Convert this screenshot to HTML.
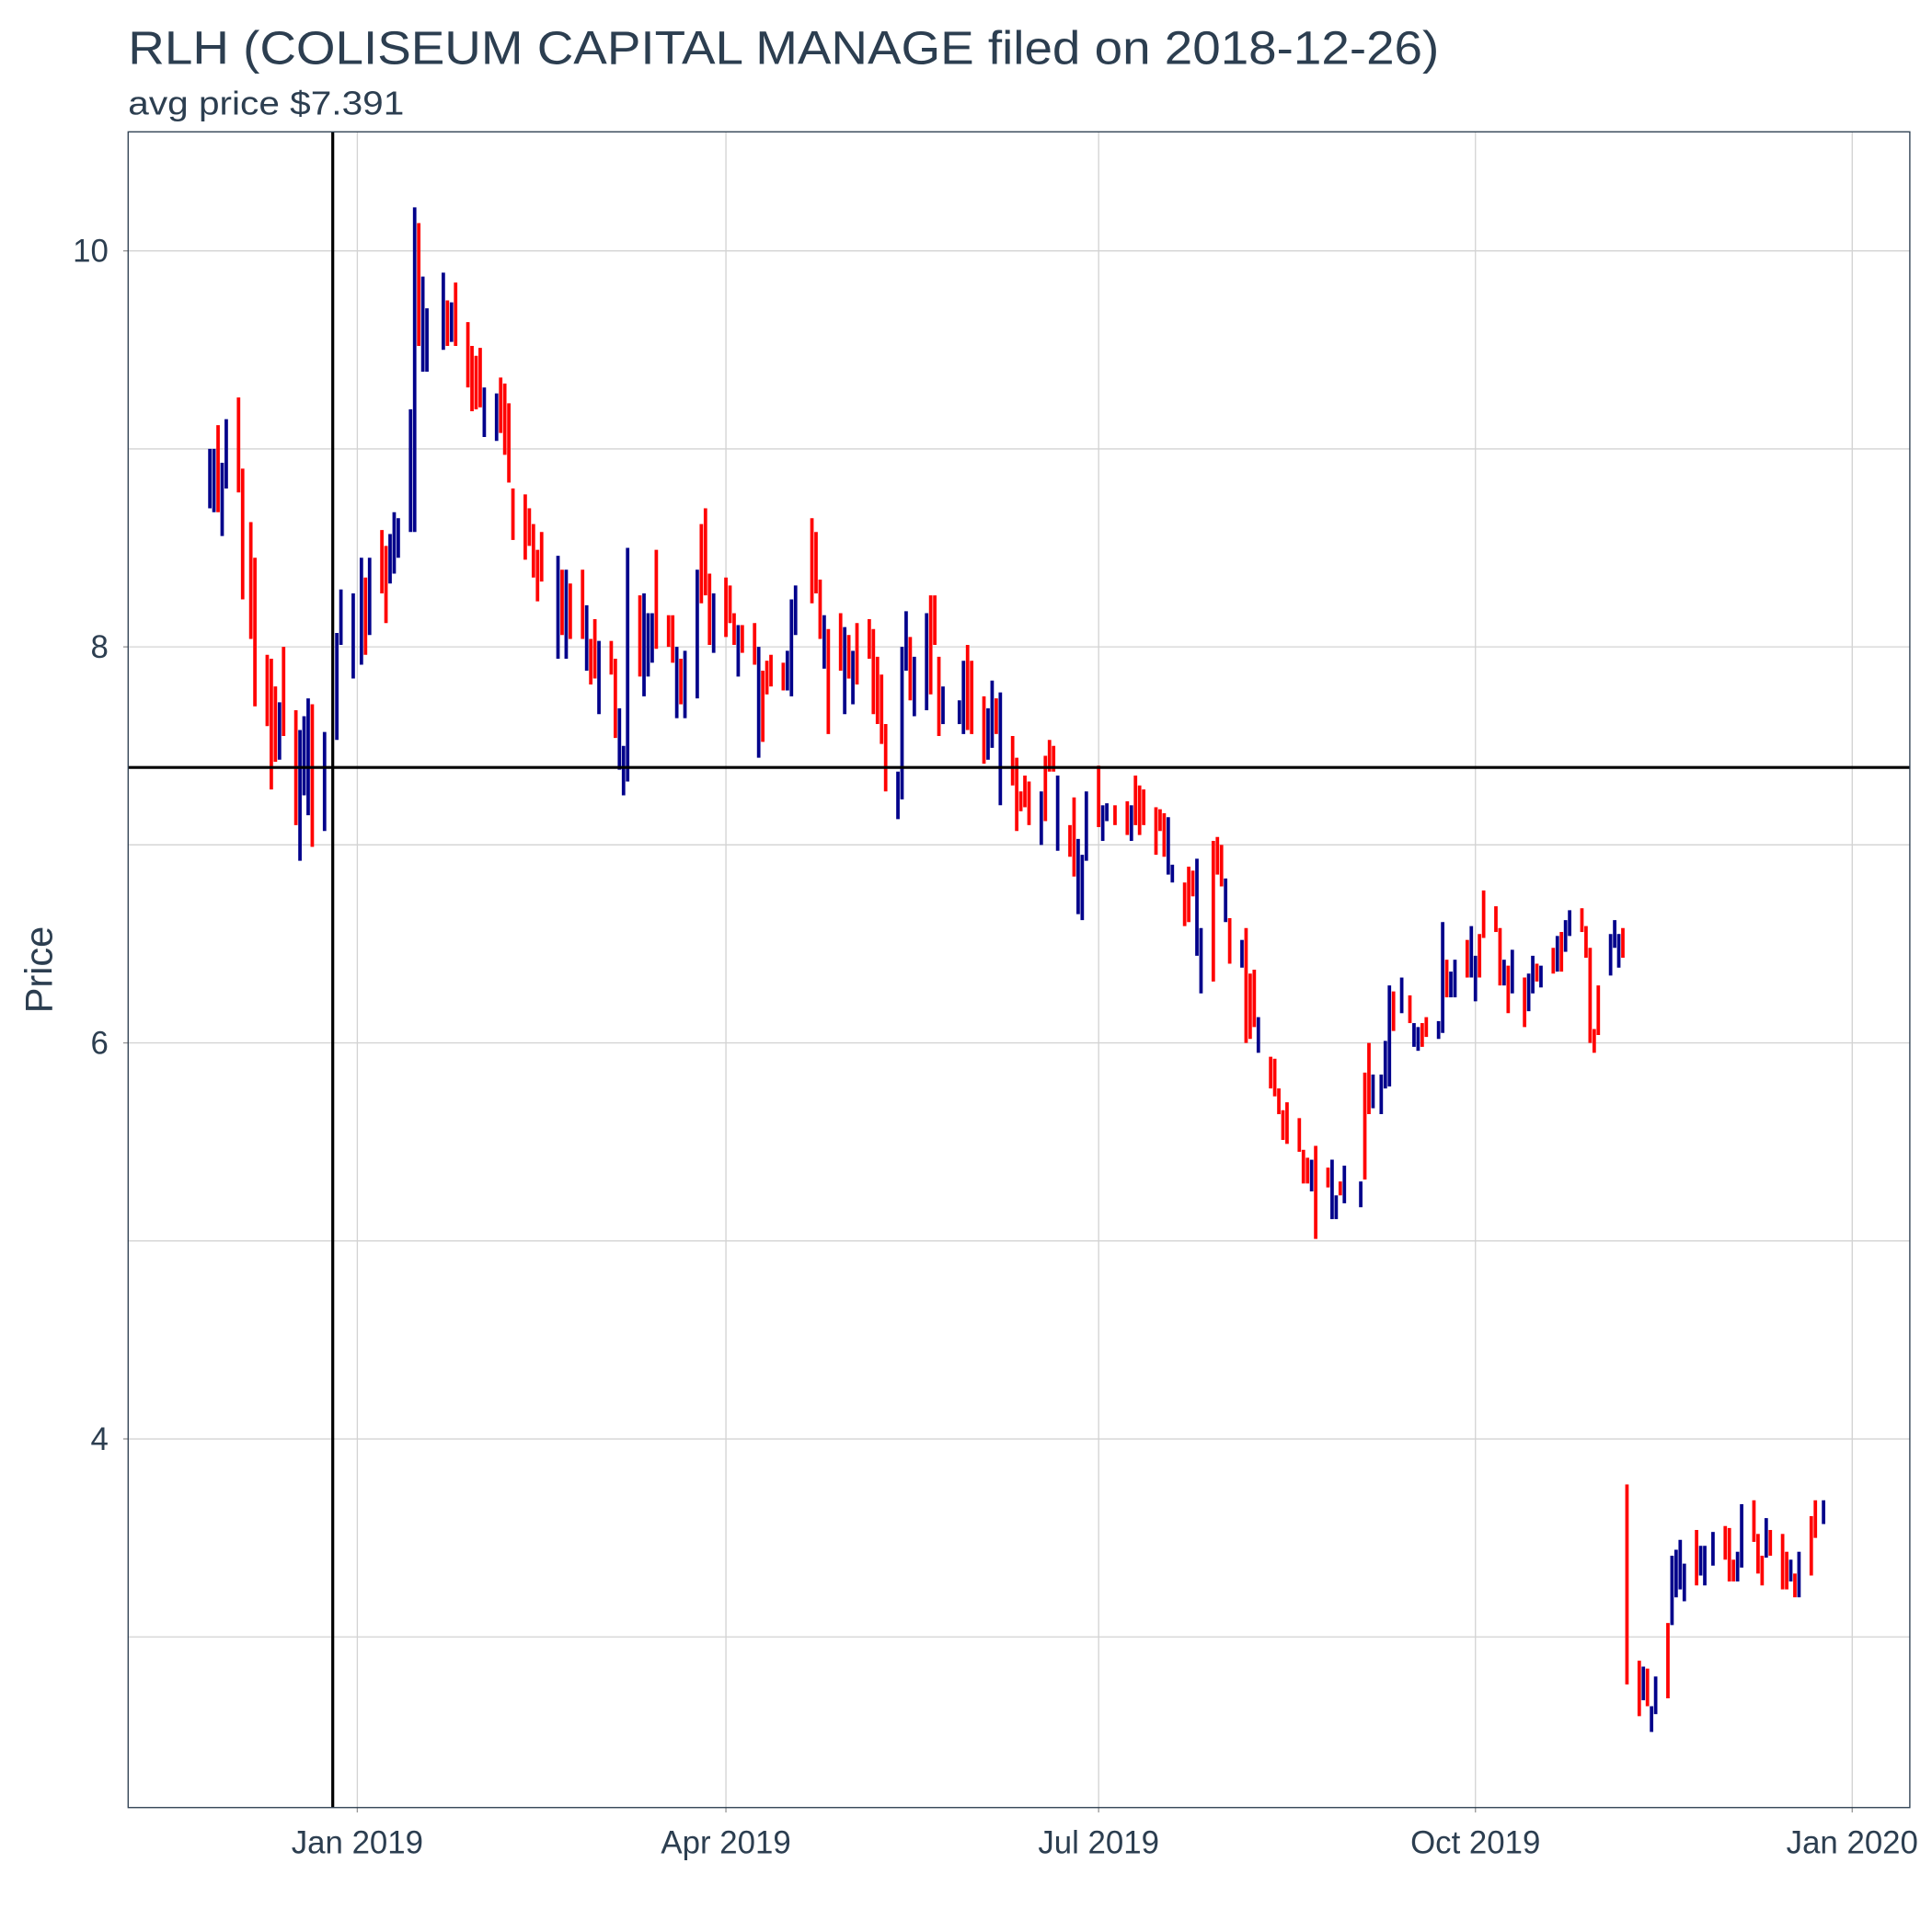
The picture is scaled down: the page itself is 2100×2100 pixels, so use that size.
<!DOCTYPE html>
<html><head><meta charset="utf-8"><style>
html,body{margin:0;padding:0;background:#fff;}
svg{display:block;font-family:"Liberation Sans",sans-serif;}
</style></head><body>
<svg id="chart" width="2100" height="2100" viewBox="0 0 1568 1568" xmlns="http://www.w3.org/2000/svg">
<rect x="0" y="0" width="1568" height="1568" fill="#fff"/>
<text x="104" y="52" font-size="38" textLength="1064" lengthAdjust="spacingAndGlyphs" fill="#2c3e50">RLH (COLISEUM CAPITAL MANAGE filed on 2018-12-26)</text>
<text x="104" y="93" font-size="27" textLength="224" lengthAdjust="spacingAndGlyphs" fill="#2c3e50">avg price $7.391</text>
<text transform="translate(42,787) rotate(-90)" text-anchor="middle" font-size="31" fill="#2c3e50">Price</text>
<g id="grid"></g>
<g id="axes"></g>
<g id="bars"></g>
<g id="refs"></g>
<rect x="104" y="107" width="1446" height="1360" fill="none" stroke="#2c3e50" stroke-width="1"/>
</svg>
<script>
// days since 2019-01-01
const days=[-36,-35,-34,-33,-32,-29,-28,-26,-25,-22,-21,-20,-19,-18,-15,-14,-13,-12,-11,-8,-5,-4,-1,1,2,3,6,7,8,9,10,
13,14,15,16,17,21,22,23,24,27,28,29,30,31,34,35,36,37,38,41,42,43,44,45,49,50,51,52,55,56,57,58,59,62,63,64,65,66,69,70,71,72,73,76,77,78,79,80,83,84,85,86,87,90,91,92,93,94,97,98,99,
100,101,104,105,106,107,111,112,113,114,115,118,119,120,121,122,125,126,127,128,129,132,133,134,135,136,139,140,141,142,143,147,148,149,150,153,154,155,156,157,160,161,162,163,164,167,168,169,170,171,174,175,176,177,178,181,182,183,185,188,189,190,191,192,
195,196,197,198,199,202,203,204,205,206,209,210,211,212,213,216,217,218,219,220,223,224,225,226,227,230,231,232,233,234,237,238,239,240,241,245,246,247,248,250,251,252,253,255,
257,258,259,260,261,264,265,266,267,268,271,272,273,274,275,278,279,280,281,282,285,286,287,288,289,292,293,294,295,296,299,300,301,302,303,306,307,308,309,
310,313,314,315,316,317,320,321,322,323,324,327,328,329,331,334,335,336,337,338,341,342,343,344,345,348,349,350,351,352,355,356,358];
const highs=[9.00,9.00,9.12,8.93,9.15,9.26,8.90,8.63,8.45,7.96,7.94,7.80,7.72,8.00,7.68,7.58,7.65,7.74,7.71,7.57,8.07,8.29,8.27,8.45,8.35,8.45,8.59,8.51,8.57,8.68,8.65,
9.20,10.22,10.14,9.87,9.71,9.89,9.75,9.74,9.84,9.64,9.52,9.47,9.51,9.31,9.28,9.36,9.33,9.23,8.80,8.77,8.70,8.62,8.49,8.58,8.46,8.39,8.39,8.32,8.39,8.21,8.04,8.14,8.03,8.03,7.94,7.69,7.50,8.50,8.26,8.27,8.17,8.17,8.49,8.16,8.16,8.00,7.94,7.98,8.39,8.62,8.70,8.37,8.27,8.35,8.31,8.17,8.11,8.11,8.12,8.00,7.88,
7.93,7.96,7.92,7.98,8.24,8.31,8.65,8.58,8.34,8.16,8.09,8.17,8.10,8.06,7.98,8.12,8.14,8.09,7.95,7.86,7.61,7.37,8.00,8.18,8.05,7.95,8.17,8.26,8.26,7.95,7.80,7.73,7.93,8.01,7.93,7.75,7.69,7.83,7.74,7.77,7.55,7.44,7.27,7.35,7.32,7.27,7.45,7.53,7.50,7.35,7.10,7.24,7.03,6.95,7.27,7.40,7.20,7.21,7.20,7.22,7.20,7.35,7.30,7.28,
7.19,7.18,7.16,7.14,6.90,6.81,6.89,6.87,6.93,6.58,7.02,7.04,7.00,6.83,6.63,6.52,6.58,6.35,6.37,6.13,5.93,5.92,5.77,5.66,5.70,5.62,5.46,5.42,5.41,5.48,5.37,5.41,5.23,5.30,5.38,5.30,5.85,6.00,5.84,5.84,6.01,6.29,6.26,6.33,
6.24,6.10,6.08,6.10,6.13,6.11,6.61,6.42,6.36,6.42,6.52,6.59,6.44,6.55,6.77,6.69,6.58,6.42,6.39,6.47,6.33,6.35,6.44,6.40,6.39,6.48,6.54,6.56,6.62,6.67,6.68,6.59,6.48,6.07,6.29,6.55,6.62,6.55,6.58,
3.77,2.88,2.85,2.84,2.65,2.80,3.07,3.41,3.44,3.49,3.37,3.54,3.46,3.46,3.53,3.56,3.55,3.39,3.43,3.67,3.69,3.52,3.41,3.60,3.54,3.52,3.43,3.39,3.32,3.43,3.61,3.69,3.69];
const lows=[8.70,8.68,8.68,8.56,8.80,8.78,8.24,8.04,7.70,7.60,7.28,7.42,7.43,7.55,7.10,6.92,7.25,7.15,6.99,7.07,7.53,8.01,7.84,7.91,7.96,8.06,8.27,8.12,8.32,8.37,8.45,
8.58,8.58,9.52,9.39,9.39,9.50,9.52,9.54,9.52,9.31,9.19,9.20,9.21,9.06,9.04,9.08,8.97,8.83,8.54,8.44,8.51,8.35,8.23,8.33,7.94,8.06,7.94,8.04,8.04,7.88,7.81,7.84,7.66,7.86,7.54,7.38,7.25,7.32,7.85,7.75,7.85,7.92,7.99,8.00,7.92,7.64,7.71,7.64,7.74,8.22,8.26,8.01,7.97,8.05,8.12,8.01,7.85,7.97,7.91,7.44,7.52,
7.76,7.80,7.78,7.78,7.75,8.06,8.22,8.27,8.04,7.89,7.56,7.88,7.66,7.84,7.71,7.81,7.94,7.66,7.61,7.51,7.27,7.13,7.23,7.88,7.73,7.65,7.68,7.76,8.01,7.55,7.61,7.61,7.56,7.58,7.56,7.41,7.43,7.49,7.56,7.20,7.30,7.07,7.17,7.19,7.10,7.00,7.12,7.37,7.37,6.97,6.94,6.84,6.65,6.62,6.92,7.09,7.02,7.12,7.10,7.05,7.02,7.10,7.05,7.10,
6.95,7.07,6.94,6.85,6.81,6.59,6.61,6.74,6.44,6.25,6.31,6.85,6.79,6.61,6.40,6.38,6.00,6.02,6.08,5.95,5.77,5.73,5.64,5.51,5.49,5.45,5.29,5.29,5.25,5.01,5.27,5.11,5.11,5.23,5.19,5.17,5.31,5.64,5.67,5.64,5.77,5.78,6.06,6.15,
6.10,5.98,5.96,5.98,6.03,6.02,6.05,6.23,6.23,6.23,6.33,6.33,6.21,6.33,6.53,6.56,6.29,6.29,6.15,6.25,6.08,6.16,6.25,6.31,6.28,6.35,6.36,6.36,6.46,6.54,6.56,6.43,6.00,5.95,6.04,6.34,6.48,6.38,6.43,
2.76,2.60,2.68,2.65,2.52,2.61,2.69,3.06,3.20,3.24,3.18,3.26,3.31,3.26,3.36,3.39,3.28,3.28,3.28,3.35,3.48,3.32,3.26,3.40,3.41,3.24,3.24,3.28,3.20,3.20,3.31,3.50,3.57];
const dirs="bbrbbrrrrrrrbrrbbbrbbbbbrbrrbbbbbrbbbrbrrrrrbbrrrrrrrrrbrbrrbrrbrrbbbrbbbrrrbrbbrrrbrrrbrrbrrrrbbbrrrbrrbrbrrrrrrbbbrbbrrrbbbrrrbbrbrrrrrbrrrbrrbbbrbbrrbrrrrrrbbrrrbbrrrbrbrrrbrrrrrrrrbrrbbrbbrrbbbbrbrbbrrbbrbbrbbrrrrbrbrbbrbrbrbbrrrrrbbbrrrbrbbrbbbbrbbbrrrbbrrrbrrrbrbrrbrrbbbb";
const yTicks=[4,6,8,10];
const yMinor=[3,5,7,9];
const xTickDays=[0,90,181,273,365];
const xTickLabels=["Jan 2019","Apr 2019","Jul 2019","Oct 2019","Jan 2020"];
const avgPrice=7.391;
const filedDay=-6;

const NS="http://www.w3.org/2000/svg";
const X0=104,X1=1550,Y0=107,Y1=1467;
function xScale(d){return 290+d*3.324;}
function yScale(p){return 525-(p-8)*160.7;}
function mk(tag,attrs,parent){const e=document.createElementNS(NS,tag);for(const k in attrs)e.setAttribute(k,attrs[k]);parent.appendChild(e);return e;}
const grid=document.getElementById('grid'),axes=document.getElementById('axes'),bars=document.getElementById('bars'),refs=document.getElementById('refs');
yMinor.concat(yTicks).forEach(v=>{
  const l=mk('line',{x1:X0,x2:X1,y1:yScale(v),y2:yScale(v),stroke:'#d3d3d3','stroke-width':1},grid);
  
  
});
xTickDays.forEach((d,i)=>{
  const l=mk('line',{x1:xScale(d),x2:xScale(d),y1:Y0,y2:Y1,stroke:'#d3d3d3','stroke-width':1},grid);
  
  
  const t=mk('line',{x1:xScale(d),x2:xScale(d),y1:Y1,y2:Y1+4,stroke:'#999','stroke-width':1},axes);
  
  
  const tx=mk('text',{x:xScale(d),y:Y1+37,'text-anchor':'middle','font-size':26,fill:'#2c3e50'},axes);
  tx.textContent=xTickLabels[i];
  
  
});
yTicks.forEach(v=>{
  const t=mk('line',{x1:X0-4,x2:X0,y1:yScale(v),y2:yScale(v),stroke:'#999','stroke-width':1},axes);
  
  
  const tx=mk('text',{x:X0-16,y:yScale(v)+9,'text-anchor':'end','font-size':26,fill:'#2c3e50'},axes);
  tx.textContent=String(v);
  
  
});
for(let i=0;i<days.length;i++){
  const up=dirs[i]==='b';
  const b=mk('line',{x1:xScale(days[i]),x2:xScale(days[i]),y1:yScale(highs[i]),y2:yScale(lows[i]),stroke:up?'#00008b':'#ff0000','stroke-width':2.8},bars);
  
  
}
const vl=mk('line',{x1:xScale(filedDay),x2:xScale(filedDay),y1:Y0,y2:Y1,stroke:'#000','stroke-width':2.4},refs);


const hl=mk('line',{x1:X0,x2:X1,y1:yScale(avgPrice),y2:yScale(avgPrice),stroke:'#000','stroke-width':2.4},refs);


</script>
</body></html>
